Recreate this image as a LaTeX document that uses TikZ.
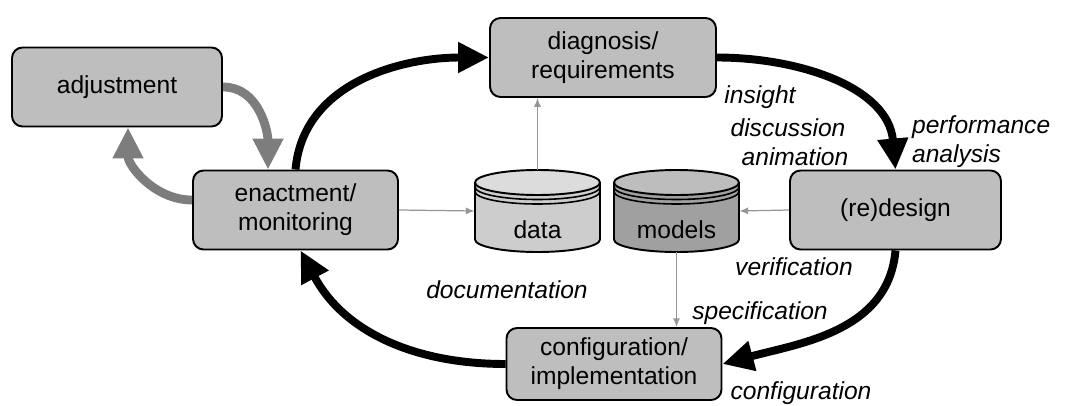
\documentclass[tikz,border=0pt]{standalone}
\usepackage{fontspec}
\setmainfont{Liberation Sans}
\definecolor{boxgray}{RGB}{190, 190, 190}
\definecolor{datagray}{RGB}{205, 205, 205}
\definecolor{modelgray}{RGB}{160, 160, 160}
\definecolor{adjgray}{RGB}{125, 125, 125}
\definecolor{linegray}{RGB}{150, 150, 150}
\usetikzlibrary{arrows.meta, positioning, calc}

\begin{document}
\begin{tikzpicture}[
    phase/.style={draw, line width=1.1pt, fill=boxgray, rounded corners=6pt, align=center,
      minimum height=1.58cm, inner sep=2pt, font=\fontsize{14}{16.5}\selectfont},
    store/.style={minimum width=2.5cm, minimum height=1.64cm, inner sep=0pt,
      font=\fontsize{14}{16.5}\selectfont},
    lbl/.style={font=\fontsize{14}{16.5}\selectfont\itshape, inner sep=1pt},
    cyclearrow/.style={line width=4.5pt, -{Triangle[length=0.62cm, width=0.58cm]}},
    adjarrow/.style={line width=5pt, draw=adjgray, -{Triangle[length=0.62cm, width=0.58cm]}},
    flow/.style={draw=linegray, line width=0.7pt, -{Latex[length=5pt, width=4pt]}}
  ]
  \useasboundingbox (0, 0) rectangle (21.42, 8.1);

  % Phases of the cycle
  \node[phase, minimum width=4.2cm] (adjust) at (2.34, 6.36) {adjustment};
  \node[phase, minimum width=4.1cm] (enact) at (5.91, 3.9) {enactment/\\monitoring};
  \node[phase, minimum width=4.52cm] (diag) at (12.06, 6.95) {diagnosis/\\requirements};
  \node[phase, minimum width=4.22cm] (redesign) at (17.91, 3.9) {(re)design};
  \node[phase, minimum width=4.3cm, minimum height=1.44cm] (config) at (12.28, 0.82) {configuration/\\implementation};

  % Stores: data and models
  \foreach \cx/\shade in {10.75/datagray, 13.53/modelgray} {
    \filldraw[line width=1.1pt, fill=\shade] (\cx-1.25, 4.45) -- (\cx-1.25, 3.31)
      arc[start angle=180, end angle=360, x radius=1.25, y radius=0.25] -- (\cx+1.25, 4.45);
    \filldraw[line width=1.1pt, fill=\shade!70] (\cx, 4.45) ellipse[x radius=1.25, y radius=0.25];
    \draw[line width=0.9pt] (\cx-1.25, 4.36) arc[start angle=180, end angle=360, x radius=1.25, y radius=0.25];
    \draw[line width=0.9pt] (\cx-1.25, 4.27) arc[start angle=180, end angle=360, x radius=1.25, y radius=0.25];
  }
  \node[store] (data) at (10.75, 3.88) {};
  \node[store] (models) at (13.53, 3.88) {};
  \node[font=\fontsize{14}{16.5}\selectfont] (datatext) at ([yshift=-0.38cm]data.center) {data};
  \node[font=\fontsize{14}{16.5}\selectfont] (modelstext) at ([yshift=-0.38cm]models.center) {models};

  % Main cycle
  \draw[cyclearrow] (enact.north) to[out=85, in=180] (diag.west);
  \draw[cyclearrow] (diag.east) to[out=0, in=95] (redesign.north);
  \draw[cyclearrow] (redesign.south) to[out=-95, in=15] (config.east);
  \draw[cyclearrow] (config.west) to[out=180, in=-62] ([xshift=0.1cm]enact.south);

  % Adjustment loop
  \draw[adjarrow] (adjust.east) to[out=0, in=90] ([xshift=-0.55cm]enact.north);
  \draw[adjarrow] ([yshift=0.2cm]enact.west) to[out=180, in=-90] ([xshift=0.22cm]adjust.south);

  % Use of data and models
  \draw[flow] (enact.east) -- (data.west);
  \draw[flow] (data.north) -- (data.north |- diag.south);
  \draw[flow] (redesign.west) -- (models.east);
  \draw[flow] (models.south) -- (models.south |- config.north);

  % Labels
  \node[lbl] (insight) at (15.2, 6.16) {insight};
  \node[lbl] (discussion) at (15.76, 5.54) {discussion};
  \node[lbl] (animation) at (15.9, 4.96) {animation};
  \node[lbl, align=left, anchor=west] (perf) at (18.2, 5.26) {performance\\analysis};
  \node[lbl] (verif) at (15.88, 2.76) {verification};
  \node[lbl] (spec) at (15.2, 1.84) {specification};
  \node[lbl] (conflbl) at (16.02, 0.24) {configuration};
  \node[lbl] (doc) at (10.14, 2.3) {documentation};
\end{tikzpicture}
\end{document}
